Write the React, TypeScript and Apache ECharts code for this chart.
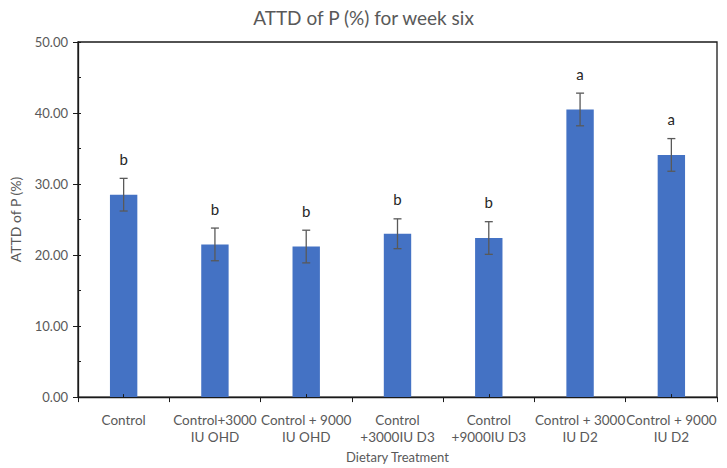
import React, { useEffect, useRef } from "react";
import * as echarts from "echarts";

const categories = [
  "Control",
  "Control+3000\nIU OHD",
  "Control + 9000\nIU OHD",
  "Control\n+3000IU D3",
  "Control\n+9000IU D3",
  "Control + 3000\nIU D2",
  "Control + 9000\nIU D2",
];
const means = [28.5, 21.5, 21.2, 23.0, 22.4, 40.5, 34.1];
const errors = [2.3, 2.3, 2.3, 2.1, 2.3, 2.3, 2.3];
const letters = ["b", "b", "b", "b", "b", "a", "a"];

const FONT = "Lato, 'Open Sans', sans-serif";
const TXT = "#595959";
const AX = "#1a1a1a";

export default function App() {
  const ref = useRef<HTMLDivElement>(null);
  useEffect(() => {
    if (!ref.current) return;
    const chart = echarts.init(ref.current, undefined, { renderer: "svg" });
    const errData = means.map((m, i) => [i, m - errors[i], m + errors[i]]);
    chart.setOption({
      animation: false,
      backgroundColor: "#ffffff",
      title: {
        text: "ATTD of P (%) for week six",
        left: "center",
        top: 3,
        textStyle: { fontFamily: FONT, fontSize: 19, fontWeight: "normal", color: TXT },
      },
      grid: { left: 69, right: 10, top: 42, bottom: 65, show: true, borderColor: AX, borderWidth: 1.3 },
      xAxis: [
        {
          type: "category",
          data: categories,
          name: "Dietary Treatment",
          nameLocation: "middle",
          nameGap: 44,
          nameTextStyle: { fontFamily: FONT, fontSize: 13, color: TXT },
          axisLine: { lineStyle: { color: AX, width: 1.3 } },
          axisTick: { show: true, alignWithLabel: false, length: 5, lineStyle: { color: AX } },
          axisLabel: { fontFamily: FONT, fontSize: 13.5, color: TXT, margin: 14, lineHeight: 17, interval: 0 },
        },
        {
          type: "category",
          data: categories,
          position: "bottom",
          z: 10,
          axisLine: { show: false },
          axisTick: { show: true, alignWithLabel: true, inside: true, length: 3, lineStyle: { color: AX } },
          axisLabel: { show: false },
        },
      ],
      yAxis: [
        {
          type: "value",
          min: 0,
          max: 50,
          interval: 10,
          name: "ATTD of P (%)",
          nameLocation: "middle",
          nameGap: 56,
          nameTextStyle: { fontFamily: FONT, fontSize: 14, color: TXT },
          axisLine: { show: true, lineStyle: { color: AX, width: 1.3 } },
          axisTick: { show: true, length: 5, lineStyle: { color: AX } },
          splitLine: { show: false },
          axisLabel: {
            fontFamily: FONT,
            fontSize: 13,
            color: TXT,
            margin: 10,
            formatter: (v: number) => v.toFixed(2),
          },
        },
        {
          type: "value",
          min: 0,
          max: 50,
          interval: 5,
          position: "left",
          z: 10,
          axisLine: { show: false },
          axisTick: { show: true, inside: true, length: 3, lineStyle: { color: AX } },
          splitLine: { show: false },
          axisLabel: { show: false },
        },
      ],
      series: [
        {
          type: "bar",
          data: means,
          barWidth: "30%",
          itemStyle: { color: "#4472C4" },
        },
        {
          type: "custom",
          data: errData,
          z: 10,
          renderItem: (params: any, api: any) => {
            const x = api.value(0);
            const lo = api.coord([x, api.value(1)]);
            const hi = api.coord([x, api.value(2)]);
            const hw = 4;
            const st = { stroke: "#595959", lineWidth: 1.3 };
            return {
              type: "group",
              children: [
                { type: "line", shape: { x1: lo[0], y1: lo[1], x2: hi[0], y2: hi[1] }, style: st },
                { type: "line", shape: { x1: lo[0] - hw, y1: lo[1], x2: lo[0] + hw, y2: lo[1] }, style: st },
                { type: "line", shape: { x1: hi[0] - hw, y1: hi[1], x2: hi[0] + hw, y2: hi[1] }, style: st },
                {
                  type: "text",
                  x: hi[0],
                  y: hi[1] - 12,
                  style: {
                    text: letters[params.dataIndex],
                    fontFamily: FONT,
                    fontSize: 15,
                    fill: "#262626",
                    align: "center",
                    verticalAlign: "bottom",
                  },
                },
              ],
            };
          },
        },
      ],
    });
    return () => chart.dispose();
  }, []);
  return <div ref={ref} style={{ width: 727, height: 468, position: "absolute", left: 0, top: 0 }} />;
}
